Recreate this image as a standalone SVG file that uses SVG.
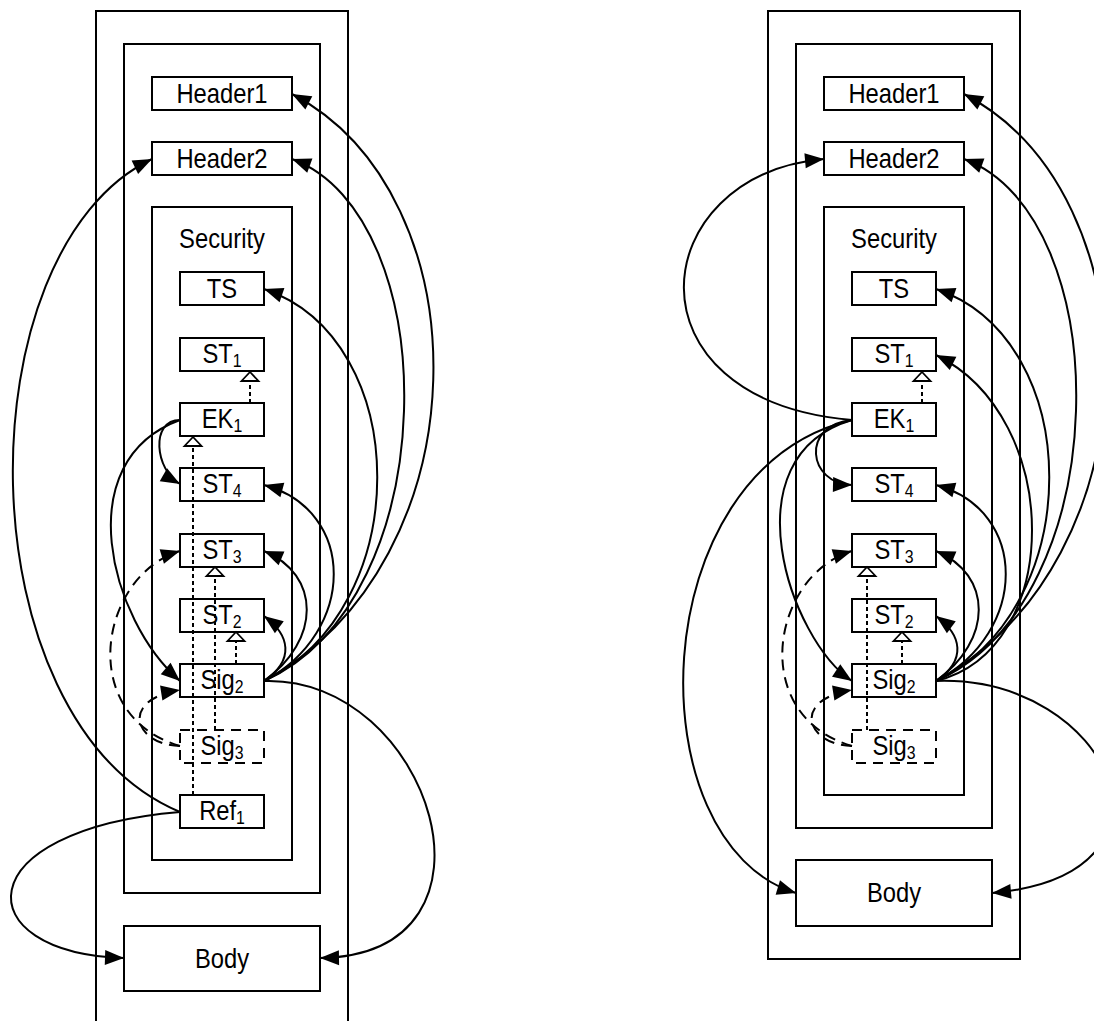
<svg xmlns="http://www.w3.org/2000/svg" width="1094" height="1021" viewBox="0 0 1094 1021">
<style>
.c{fill:none;stroke:#000;stroke-width:2}
.n{fill:#fff;stroke:#000;stroke-width:2}
.dn{fill:#fff;stroke:#000;stroke-width:2;stroke-dasharray:10 7}
.t{font-family:"Liberation Sans",Arial,sans-serif;font-size:27px;text-anchor:middle;fill:#000}
.s{font-size:18px}
.e{fill:none;stroke:#000;stroke-width:2;marker-end:url(#arr)}
.de{fill:none;stroke:#000;stroke-width:2;stroke-dasharray:11 7;marker-end:url(#arr)}
.dt{fill:none;stroke:#000;stroke-width:2;stroke-dasharray:4 3;marker-end:url(#tri)}
</style>
<defs>
<marker id="arr" markerUnits="userSpaceOnUse" markerWidth="20" markerHeight="16" refX="19" refY="7.5" orient="auto" overflow="visible"><path d="M0,0 L19,7.5 L0,15 z" fill="#000"/></marker>
<marker id="tri" markerUnits="userSpaceOnUse" markerWidth="12" markerHeight="20" refX="10" refY="8.5" orient="auto" overflow="visible"><path d="M1,0 L10,8.5 L1,17 z" fill="#fff" stroke="#000" stroke-width="1.8"/></marker>
</defs>
<rect width="1094" height="1021" fill="#fff"/>

<!-- LEFT DIAGRAM -->
<g id="L-envelope"><rect class="c" x="96" y="11" width="252" height="1030"/></g>
<g id="L-header"><rect class="c" x="124" y="44" width="196" height="849"/></g>
<g id="L-security"><rect class="c" x="152" y="207" width="140" height="653"/><text class="t" transform="translate(222,248) scale(0.88,1)">Security</text></g>
<g id="L-body"><rect class="n" x="124" y="926" width="196" height="65"/><text class="t" transform="translate(222,968) scale(0.88,1)">Body</text></g>
<g id="L-header1"><rect class="n" x="152" y="77" width="140" height="33"/><text class="t" transform="translate(222,103) scale(0.88,1)">Header1</text></g>
<g id="L-header2"><rect class="n" x="152" y="142" width="140" height="33"/><text class="t" transform="translate(222,168) scale(0.88,1)">Header2</text></g>
<g id="L-TS"><rect class="n" x="180" y="272" width="84" height="33"/><text class="t" transform="translate(222,298) scale(0.88,1)">TS</text></g>
<g id="L-ST1"><rect class="n" x="180" y="338" width="84" height="33"/><text class="t" transform="translate(222,363) scale(0.88,1)">ST<tspan class="s" dy="4">1</tspan></text></g>
<g id="L-EK1"><rect class="n" x="180" y="403" width="84" height="33"/><text class="t" transform="translate(222,428) scale(0.88,1)">EK<tspan class="s" dy="4">1</tspan></text></g>
<g id="L-ST4"><rect class="n" x="180" y="468" width="84" height="33"/><text class="t" transform="translate(222,493) scale(0.88,1)">ST<tspan class="s" dy="4">4</tspan></text></g>
<g id="L-ST3"><rect class="n" x="180" y="534" width="84" height="33"/><text class="t" transform="translate(222,559) scale(0.88,1)">ST<tspan class="s" dy="4">3</tspan></text></g>
<g id="L-ST2"><rect class="n" x="180" y="599" width="84" height="33"/><text class="t" transform="translate(222,624) scale(0.88,1)">ST<tspan class="s" dy="4">2</tspan></text></g>
<g id="L-Sig2"><rect class="n" x="180" y="664" width="84" height="33"/><text class="t" transform="translate(222,689) scale(0.88,1)">Sig<tspan class="s" dy="4">2</tspan></text></g>
<g id="L-Sig3"><rect class="dn" x="180" y="730" width="84" height="33"/><text class="t" transform="translate(222,755) scale(0.88,1)">Sig<tspan class="s" dy="4">3</tspan></text></g>
<g id="L-Ref1"><rect class="n" x="180" y="795" width="84" height="33"/><text class="t" transform="translate(222,820) scale(0.88,1)">Ref<tspan class="s" dy="4">1</tspan></text></g>

<!-- RIGHT DIAGRAM -->
<g id="R-envelope"><rect class="c" x="768" y="11" width="252" height="948"/></g>
<g id="R-header"><rect class="c" x="796" y="44" width="196" height="784"/></g>
<g id="R-security"><rect class="c" x="824" y="207" width="140" height="588"/><text class="t" transform="translate(894,248) scale(0.88,1)">Security</text></g>
<g id="R-body"><rect class="n" x="796" y="860" width="196" height="66"/><text class="t" transform="translate(894,902) scale(0.88,1)">Body</text></g>
<g id="R-header1"><rect class="n" x="824" y="77" width="140" height="33"/><text class="t" transform="translate(894,103) scale(0.88,1)">Header1</text></g>
<g id="R-header2"><rect class="n" x="824" y="142" width="140" height="33"/><text class="t" transform="translate(894,168) scale(0.88,1)">Header2</text></g>
<g id="R-TS"><rect class="n" x="852" y="272" width="84" height="33"/><text class="t" transform="translate(894,298) scale(0.88,1)">TS</text></g>
<g id="R-ST1"><rect class="n" x="852" y="338" width="84" height="33"/><text class="t" transform="translate(894,363) scale(0.88,1)">ST<tspan class="s" dy="4">1</tspan></text></g>
<g id="R-EK1"><rect class="n" x="852" y="403" width="84" height="33"/><text class="t" transform="translate(894,428) scale(0.88,1)">EK<tspan class="s" dy="4">1</tspan></text></g>
<g id="R-ST4"><rect class="n" x="852" y="468" width="84" height="33"/><text class="t" transform="translate(894,493) scale(0.88,1)">ST<tspan class="s" dy="4">4</tspan></text></g>
<g id="R-ST3"><rect class="n" x="852" y="534" width="84" height="33"/><text class="t" transform="translate(894,559) scale(0.88,1)">ST<tspan class="s" dy="4">3</tspan></text></g>
<g id="R-ST2"><rect class="n" x="852" y="599" width="84" height="33"/><text class="t" transform="translate(894,624) scale(0.88,1)">ST<tspan class="s" dy="4">2</tspan></text></g>
<g id="R-Sig2"><rect class="n" x="852" y="664" width="84" height="33"/><text class="t" transform="translate(894,689) scale(0.88,1)">Sig<tspan class="s" dy="4">2</tspan></text></g>
<g id="R-Sig3"><rect class="dn" x="852" y="730" width="84" height="33"/><text class="t" transform="translate(894,755) scale(0.88,1)">Sig<tspan class="s" dy="4">3</tspan></text></g>

<g id="connectors">
<!-- left: Sig2 to the right -->
<path class="e" d="M264,681 C485,560 485,195 292,94"/>
<path class="e" d="M264,681 C446,600 446,216 292,159"/>
<path class="e" d="M264,681 C415,609 415,340 264,289"/>
<path class="e" d="M264,681 C357,632 357,510 264,485"/>
<path class="e" d="M264,681 C321,640 321,575 264,551"/>
<path class="e" d="M264,681 C295,660 290,635 264,616"/>
<path class="e" d="M264,681 C430,675 520,955 320,958"/>
<!-- left: left side -->
<path class="e" d="M180,812 C-38,720 -38,250 152,159"/>
<path class="e" d="M180,812 C-35,830 -35,953 124,958"/>
<path class="e" d="M180,420 C150,420 155,470 180,484"/>
<path class="e" d="M180,420 C68,461 110,620 180,681"/>
<path class="de" d="M180,746 C75,715 100,575 180,551"/>
<path class="de" d="M180,746 C135,745 118,700 180,690"/>
<!-- left: dotted -->
<path class="dt" d="M250,403 L250,372"/>
<path class="dt" d="M193,795 L193,437"/>
<path class="dt" d="M215,730 L215,567"/>
<path class="dt" d="M236,664 L236,632"/>

<!-- right: Sig2 to the right -->
<path class="e" d="M936,681 C1157,560 1157,195 964,94"/>
<path class="e" d="M936,681 C1118,600 1118,216 964,159"/>
<path class="e" d="M936,681 C1087,609 1087,340 936,289"/>
<path class="e" d="M936,681 C1064,650 1064,418 936,355"/>
<path class="e" d="M936,681 C1029,632 1029,510 936,485"/>
<path class="e" d="M936,681 C993,640 993,575 936,551"/>
<path class="e" d="M936,681 C967,660 962,635 936,616"/>
<path class="e" d="M936,681 C1110,675 1200,875 992,893"/>
<!-- right: left side -->
<path class="e" d="M852,420 C620,400 645,175 824,159"/>
<path class="e" d="M852,420 C800,425 808,484 852,485"/>
<path class="e" d="M852,420 C727,457 790,640 852,681"/>
<path class="e" d="M852,420 C640,470 635,844 796,893"/>
<path class="de" d="M852,746 C747,715 772,575 852,551"/>
<path class="de" d="M852,746 C807,745 790,700 852,690"/>
<!-- right: dotted -->
<path class="dt" d="M922,403 L922,372"/>
<path class="dt" d="M867,730 L867,567"/>
<path class="dt" d="M902,664 L902,632"/>
</g>
</svg>
